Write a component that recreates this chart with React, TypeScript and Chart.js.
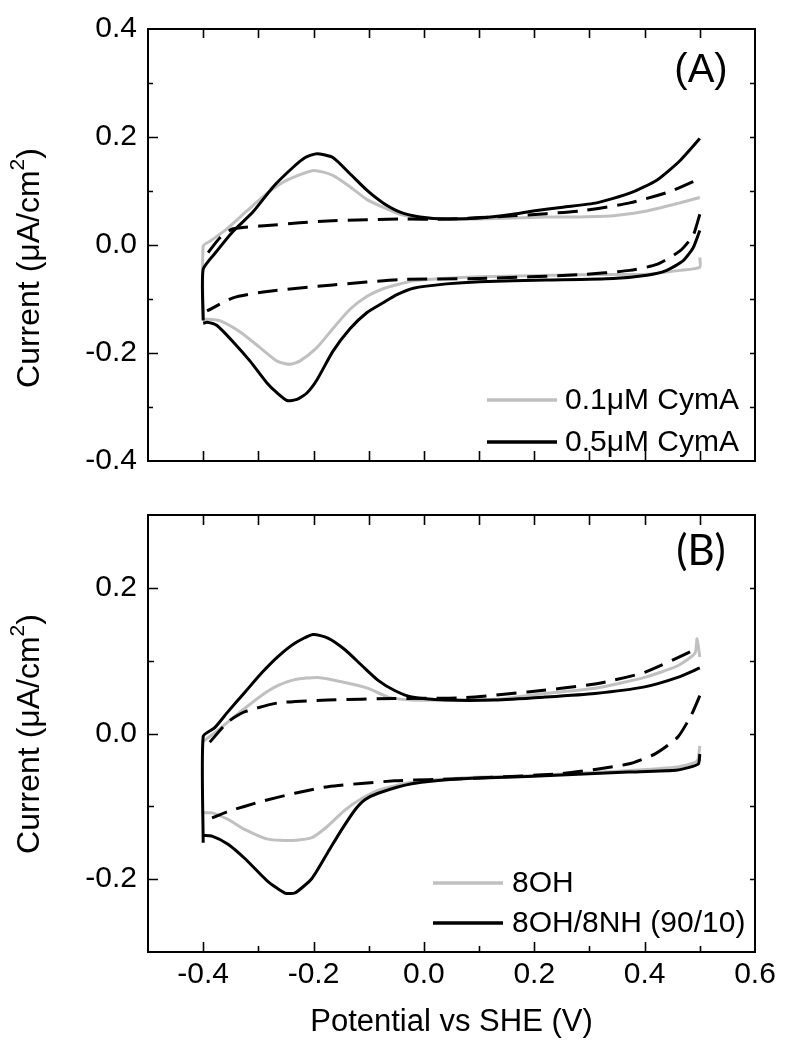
import React, { useEffect, useRef } from "react";
import { Chart, registerables } from "chart.js";

Chart.register(...registerables);

const FONT = "'Liberation Sans', Arial, Helvetica, sans-serif";

// ---------- axes ----------
const X_MIN = -0.5;
const X_MAX = 0.6;
const X_TICK_LABELS = [-0.4, -0.2, 0.0, 0.2, 0.4, 0.6];
const X_FRAME_TICKS = [-0.4, -0.3, -0.2, -0.1, 0.0, 0.1, 0.2, 0.3, 0.4, 0.5];

const A_Y_MIN = -0.4;
const A_Y_MAX = 0.4;
const A_Y_TICK_LABELS = [-0.4, -0.2, 0.0, 0.2, 0.4];
const A_Y_FRAME_TICKS = [-0.3, -0.2, -0.1, 0.0, 0.1, 0.2, 0.3];

const B_Y_MIN = -0.3;
const B_Y_MAX = 0.3;
const B_Y_TICK_LABELS = [-0.2, 0.0, 0.2];
const B_Y_FRAME_TICKS = [-0.2, -0.1, 0.0, 0.1, 0.2];

const X_TITLE = "Potential vs SHE (V)";
const Y_TITLE_MAIN = "Current (\u03BCA/cm";
const Y_TITLE_SUP = "2";
const Y_TITLE_END = ")";

// ---------- panel A : CymA ----------
const A_LABEL_GRAY = "0.1\u03BCM CymA";
const A_LABEL_BLACK = "0.5\u03BCM CymA";

const A_GRAY_UP_X = [-0.4, -0.4, -0.386, -0.357, -0.321, -0.284, -0.248, -0.2, -0.165, -0.134, -0.103, -0.074, -0.043, 0.0, 0.05, 0.1, 0.16, 0.222, 0.283, 0.343, 0.404, 0.464, 0.5];
const A_GRAY_UP_Y = [-0.137, -0.002, 0.008, 0.03, 0.063, 0.096, 0.12, 0.138, 0.129, 0.108, 0.084, 0.07, 0.057, 0.05, 0.048, 0.048, 0.05, 0.052, 0.052, 0.054, 0.063, 0.078, 0.088];
const A_GRAY_DN_X = [0.5, 0.5, 0.464, 0.404, 0.283, 0.101, -0.019, -0.043, -0.074, -0.103, -0.134, -0.165, -0.194, -0.225, -0.243, -0.266, -0.297, -0.333, -0.37, -0.4];
const A_GRAY_DN_Y = [-0.023, -0.041, -0.047, -0.054, -0.055, -0.059, -0.066, -0.072, -0.081, -0.095, -0.119, -0.155, -0.19, -0.215, -0.221, -0.215, -0.19, -0.161, -0.14, -0.137];

const A_BLACK_UP_X = [-0.4, -0.4, -0.375, -0.346, -0.31, -0.273, -0.237, -0.215, -0.194, -0.165, -0.134, -0.104, -0.074, -0.043, -0.007, 0.041, 0.101, 0.161, 0.198, 0.252, 0.313, 0.373, 0.422, 0.464, 0.5];
const A_BLACK_UP_Y = [-0.14, -0.045, -0.011, 0.025, 0.061, 0.108, 0.144, 0.162, 0.169, 0.162, 0.132, 0.102, 0.078, 0.061, 0.052, 0.048, 0.05, 0.057, 0.063, 0.07, 0.078, 0.096, 0.12, 0.156, 0.197];
const A_BLACK_DN_X = [0.5, 0.488, 0.47, 0.44, 0.404, 0.343, 0.222, 0.101, 0.041, -0.019, -0.049, -0.074, -0.103, -0.134, -0.165, -0.194, -0.212, -0.23, -0.248, -0.266, -0.284, -0.315, -0.346, -0.375, -0.393, -0.4];
const A_BLACK_DN_Y = [0.027, -0.005, -0.029, -0.047, -0.056, -0.062, -0.065, -0.068, -0.072, -0.08, -0.092, -0.107, -0.125, -0.155, -0.197, -0.25, -0.274, -0.286, -0.288, -0.274, -0.256, -0.215, -0.179, -0.149, -0.143, -0.145];

const A_DASH_UP_X = [-0.391, -0.37, -0.346, -0.284, -0.225, -0.165, -0.043, 0.041, 0.161, 0.283, 0.373, 0.446, 0.5];
const A_DASH_UP_Y = [-0.014, 0.013, 0.03, 0.036, 0.041, 0.045, 0.048, 0.048, 0.054, 0.063, 0.078, 0.099, 0.123];
const A_DASH_DN_X = [0.5, 0.488, 0.464, 0.422, 0.373, 0.283, 0.101, -0.043, -0.165, -0.284, -0.346, -0.393];
const A_DASH_DN_Y = [0.057, 0.018, -0.011, -0.036, -0.047, -0.055, -0.062, -0.064, -0.074, -0.086, -0.098, -0.122];

// ---------- panel B : SAMs ----------
const B_LABEL_GRAY = "8OH";
const B_LABEL_BLACK = "8OH/8NH (90/10)";

const B_GRAY_UP_X = [-0.4, -0.379, -0.355, -0.324, -0.293, -0.264, -0.234, -0.192, -0.143, -0.101, -0.065, -0.022, 0.038, 0.129, 0.219, 0.31, 0.4, 0.46, 0.491, 0.495, 0.5];
const B_GRAY_UP_Y = [-0.011, 0.001, 0.016, 0.035, 0.053, 0.066, 0.074, 0.077, 0.07, 0.062, 0.05, 0.046, 0.046, 0.047, 0.055, 0.062, 0.077, 0.093, 0.11, 0.13, 0.105];
const B_GRAY_DN_X = [0.5, 0.495, 0.46, 0.37, 0.188, 0.069, -0.022, -0.083, -0.112, -0.143, -0.174, -0.203, -0.239, -0.283, -0.324, -0.355, -0.384, -0.4];
const B_GRAY_DN_Y = [-0.017, -0.038, -0.046, -0.051, -0.058, -0.061, -0.067, -0.078, -0.089, -0.105, -0.127, -0.143, -0.147, -0.145, -0.132, -0.118, -0.109, -0.109];

const B_BLACK_UP_X = [-0.4, -0.4, -0.379, -0.355, -0.324, -0.293, -0.264, -0.234, -0.201, -0.174, -0.143, -0.112, -0.083, -0.053, -0.022, 0.038, 0.129, 0.219, 0.31, 0.4, 0.46, 0.5];
const B_BLACK_UP_Y = [-0.15, -0.004, 0.008, 0.03, 0.057, 0.084, 0.106, 0.124, 0.136, 0.131, 0.115, 0.093, 0.073, 0.059, 0.05, 0.046, 0.046, 0.05, 0.055, 0.064, 0.077, 0.09];
const B_BLACK_DN_X = [0.5, 0.497, 0.46, 0.37, 0.188, 0.069, -0.022, -0.083, -0.107, -0.125, -0.149, -0.174, -0.203, -0.234, -0.252, -0.283, -0.324, -0.355, -0.384, -0.4];
const B_BLACK_DN_Y = [-0.028, -0.042, -0.05, -0.053, -0.059, -0.062, -0.069, -0.082, -0.091, -0.105, -0.132, -0.163, -0.199, -0.219, -0.219, -0.203, -0.172, -0.152, -0.141, -0.14];

const B_DASH_UP_X = [-0.388, -0.355, -0.324, -0.264, -0.174, -0.053, 0.069, 0.188, 0.31, 0.4, 0.491];
const B_DASH_UP_Y = [-0.012, 0.016, 0.03, 0.042, 0.046, 0.048, 0.049, 0.057, 0.068, 0.084, 0.115];
const B_DASH_DN_X = [0.5, 0.485, 0.46, 0.419, 0.37, 0.25, 0.069, -0.053, -0.174, -0.234, -0.293, -0.355, -0.384];
const B_DASH_DN_Y = [0.052, 0.026, -0.005, -0.028, -0.042, -0.055, -0.062, -0.065, -0.073, -0.082, -0.093, -0.107, -0.116];

// ---------- helpers ----------
function pts(xs: number[], ys: number[]) {
  return xs.map((x, i) => ({ x, y: ys[i] }));
}
function loop(ux: number[], uy: number[], lx: number[], ly: number[]) {
  return [...pts(ux, uy), { x: ux[ux.length - 1], y: null }, ...pts(lx, ly)];
}
function fmt(v: number) {
  const n = Math.abs(v) < 1e-9 ? 0 : v;
  return n.toFixed(1);
}

const GRAY = "rgb(192,192,192)";
const BLACK = "#000000";

const decorPlugin = {
  id: "decor",
  afterDatasetsDraw(chart: any, _args: any, o: any) {
    const { ctx, chartArea: a, scales } = chart;
    const xs = scales.x;
    const ys = scales.y;
    ctx.save();
    // ticks (inward)
    ctx.strokeStyle = "#000";
    ctx.lineWidth = 1.6;
    ctx.beginPath();
    for (const v of o.xTicks) {
      const px = Math.round(xs.getPixelForValue(v)) + 0.5;
      const major = Math.round(v * 10) % 2 === 0;
      const lb = major ? o.len.bottomMajor : o.len.bottomMinor;
      const lt = major ? o.len.topMajor : o.len.topMinor;
      ctx.moveTo(px, a.bottom);
      ctx.lineTo(px, a.bottom - lb);
      ctx.moveTo(px, a.top);
      ctx.lineTo(px, a.top + lt);
    }
    for (const v of o.yTicks) {
      const py = Math.round(ys.getPixelForValue(v)) + 0.5;
      const major = Math.round(v * 10) % 2 === 0;
      const ll = major ? o.len.leftMajor : o.len.leftMinor;
      const lr = major ? o.len.rightMajor : o.len.rightMinor;
      ctx.moveTo(a.left, py);
      ctx.lineTo(a.left + ll, py);
      ctx.moveTo(a.right, py);
      ctx.lineTo(a.right - lr, py);
    }
    ctx.stroke();
    // frame
    ctx.lineWidth = 2;
    ctx.strokeRect(a.left, a.top, a.right - a.left, a.bottom - a.top);

    // legend
    ctx.fillStyle = "#000";
    ctx.font = `30px ${FONT}`;
    ctx.textAlign = "left";
    ctx.textBaseline = "middle";
    const items = chart.data.datasets.filter((d: any) => d.inLegend);
    items.forEach((d: any, i: number) => {
      const y = o.legend.ys[i];
      ctx.strokeStyle = d.borderColor;
      ctx.lineWidth = 3.5;
      ctx.setLineDash([]);
      ctx.beginPath();
      ctx.moveTo(o.legend.x0, y);
      ctx.lineTo(o.legend.x1, y);
      ctx.stroke();
      ctx.fillText(d.label, o.legend.textX, y + 1);
    });

    // panel label
    ctx.font = o.panel.font;
    ctx.textAlign = "center";
    ctx.textBaseline = "middle";
    ctx.fillText(o.panel.text, o.panel.x, o.panel.y);

    // y title with superscript
    ctx.translate(o.ytitle.x, o.ytitle.y);
    ctx.rotate(-Math.PI / 2);
    const mainFont = `32px ${FONT}`;
    const supFont = `21px ${FONT}`;
    ctx.font = mainFont;
    const w1 = ctx.measureText(Y_TITLE_MAIN).width;
    const w3 = ctx.measureText(Y_TITLE_END).width;
    ctx.font = supFont;
    const w2 = ctx.measureText(Y_TITLE_SUP).width;
    let sx = -(w1 + w2 + w3) / 2;
    ctx.textAlign = "left";
    ctx.textBaseline = "middle";
    ctx.font = mainFont;
    ctx.fillText(Y_TITLE_MAIN, sx, 0);
    sx += w1;
    ctx.font = supFont;
    ctx.fillText(Y_TITLE_SUP, sx, -12);
    sx += w2;
    ctx.font = mainFont;
    ctx.fillText(Y_TITLE_END, sx, 0);
    ctx.restore();
  },
};

function makeDatasets(
  gray: any[],
  black: any[],
  dash: any[],
  gLabel: string,
  bLabel: string
) {
  const common = { showLine: true, pointRadius: 0, borderWidth: 3, tension: 0.2, fill: false, spanGaps: false };
  return [
    { ...common, label: "", data: dash, borderColor: BLACK, borderDash: [20, 10], order: 0, inLegend: false },
    { ...common, label: gLabel, data: gray, borderColor: GRAY, order: 2, inLegend: true },
    { ...common, label: bLabel, data: black, borderColor: BLACK, order: 1, inLegend: true },
  ].sort((p: any, q: any) => (p.inLegend === q.inLegend ? 0 : p.inLegend ? -1 : 1));
}

function tickFont() {
  return { family: FONT, size: 30 };
}

export default function App() {
  const refA = useRef<HTMLCanvasElement | null>(null);
  const refB = useRef<HTMLCanvasElement | null>(null);

  useEffect(() => {
    const dsA = makeDatasets(
      loop(A_GRAY_UP_X, A_GRAY_UP_Y, A_GRAY_DN_X, A_GRAY_DN_Y),
      loop(A_BLACK_UP_X, A_BLACK_UP_Y, A_BLACK_DN_X, A_BLACK_DN_Y),
      loop(A_DASH_UP_X, A_DASH_UP_Y, A_DASH_DN_X, A_DASH_DN_Y),
      A_LABEL_GRAY,
      A_LABEL_BLACK
    );
    const chartA = new Chart(refA.current as HTMLCanvasElement, {
      type: "scatter",
      data: { datasets: dsA as any },
      plugins: [decorPlugin as any],
      options: {
        responsive: false,
        devicePixelRatio: 1,
        animation: false,
        events: [],
        layout: { padding: { left: 0, top: 24, right: 31, bottom: 20 } },
        scales: {
          x: {
            type: "linear",
            display: false,
            min: X_MIN,
            max: X_MAX,
          },
          y: {
            type: "linear",
            min: A_Y_MIN,
            max: A_Y_MAX,
            afterFit: (s: any) => {
              s.width = 148;
            },
            afterBuildTicks: (s: any) => {
              s.ticks = A_Y_TICK_LABELS.map((v) => ({ value: v }));
            },
            grid: { display: false, drawTicks: false },
            border: { display: false },
            ticks: { font: tickFont(), color: "#000", padding: 11, callback: (v: any) => fmt(Number(v)) },
          },
        },
        plugins: {
          legend: { display: false },
          tooltip: { enabled: false },
          decor: {
            xTicks: X_FRAME_TICKS,
            yTicks: A_Y_FRAME_TICKS,
            len: { bottomMajor: 10, bottomMinor: 10, topMajor: 9, topMinor: 9, leftMajor: 10, leftMinor: 5, rightMajor: 5, rightMinor: 5 },
            legend: { x0: 487, x1: 557, textX: 565, ys: [400, 442] },
            panel: { text: "(A)", x: 701, y: 71, font: `40px ${FONT}` },
            ytitle: { x: 30, y: 268 },
          },
        } as any,
      },
    } as any);

    const dsB = makeDatasets(
      loop(B_GRAY_UP_X, B_GRAY_UP_Y, B_GRAY_DN_X, B_GRAY_DN_Y),
      loop(B_BLACK_UP_X, B_BLACK_UP_Y, B_BLACK_DN_X, B_BLACK_DN_Y),
      loop(B_DASH_UP_X, B_DASH_UP_Y, B_DASH_DN_X, B_DASH_DN_Y),
      B_LABEL_GRAY,
      B_LABEL_BLACK
    );
    const chartB = new Chart(refB.current as HTMLCanvasElement, {
      type: "scatter",
      data: { datasets: dsB as any },
      plugins: [decorPlugin as any],
      options: {
        responsive: false,
        devicePixelRatio: 1,
        animation: false,
        events: [],
        layout: { padding: { left: 0, top: 20, right: 31, bottom: 0 } },
        scales: {
          x: {
            type: "linear",
            min: X_MIN,
            max: X_MAX,
            afterFit: (s: any) => {
              s.height = 97;
            },
            afterBuildTicks: (s: any) => {
              s.ticks = X_TICK_LABELS.map((v) => ({ value: v }));
            },
            grid: { display: false, drawTicks: false },
            border: { display: false },
            ticks: { font: tickFont(), color: "#000", padding: 5, maxRotation: 0, autoSkip: false, callback: (v: any) => fmt(Number(v)) },
            title: {
              display: true,
              text: X_TITLE,
              color: "#000",
              font: { family: FONT, size: 31 },
              padding: { top: 0, bottom: 8 },
            },
          },
          y: {
            type: "linear",
            min: B_Y_MIN,
            max: B_Y_MAX,
            afterFit: (s: any) => {
              s.width = 148;
            },
            afterBuildTicks: (s: any) => {
              s.ticks = B_Y_TICK_LABELS.map((v) => ({ value: v }));
            },
            grid: { display: false, drawTicks: false },
            border: { display: false },
            ticks: { font: tickFont(), color: "#000", padding: 11, callback: (v: any) => fmt(Number(v)) },
          },
        },
        plugins: {
          legend: { display: false },
          tooltip: { enabled: false },
          decor: {
            xTicks: X_FRAME_TICKS,
            yTicks: B_Y_FRAME_TICKS,
            len: { bottomMajor: 10, bottomMinor: 6, topMajor: 10, topMinor: 10, leftMajor: 10, leftMinor: 6, rightMajor: 5, rightMinor: 5 },
            legend: { x0: 433, x1: 503, textX: 512, ys: [397, 437] },
            panel: { text: "(B)", x: 701, y: 65, font: `42px Lato, 'Open Sans', sans-serif` },
            ytitle: { x: 30, y: 248 },
          },
        } as any,
      },
    } as any);

    return () => {
      chartA.destroy();
      chartB.destroy();
    };
  }, []);

  return (
    <div style={{ position: "fixed", left: 0, top: 0, width: 786, height: 1049, background: "#fff" }}>
      <canvas
        ref={refA}
        width={786}
        height={490}
        style={{ position: "absolute", left: 0, top: 0, width: 786, height: 490 }}
      />
      <canvas
        ref={refB}
        width={786}
        height={563}
        style={{ position: "absolute", left: 0, top: 486, width: 786, height: 563 }}
      />
    </div>
  );
}
